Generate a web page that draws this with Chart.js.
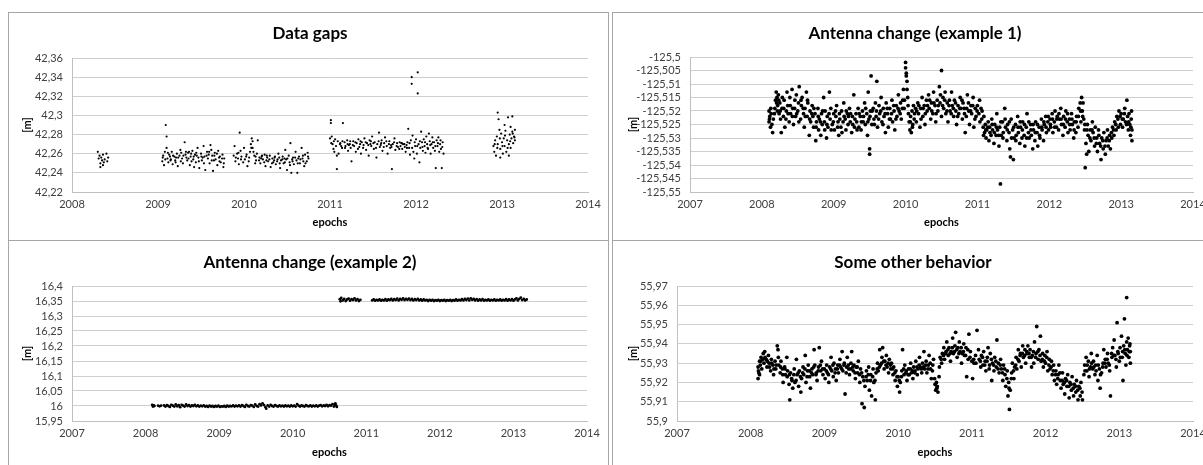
<!DOCTYPE html>
<html>
<head>
<meta charset="utf-8">
<script src="https://cdn.jsdelivr.net/npm/chart.js@4.4.1/dist/chart.umd.min.js"></script>
<style>
  body { margin: 0; width: 1203px; height: 465px; overflow: hidden; background: #fff; font-family: Lato, sans-serif; }
  .panel { position: absolute; border: 1px solid #a6a6a6; box-sizing: border-box; overflow: hidden; }
  .panel canvas { position: absolute; left: 0; top: 0; }
  .titulo { position: absolute; width: 600px; text-align: center; font: bold 17px Lato, sans-serif; line-height: 20px; color: #000; }
</style>
</head>
<body>
<div class="panel" style="left:8px;top:12px;width:601px;height:229px"><canvas id="grafico1" width="598" height="226"></canvas></div>
<div class="panel" style="left:612px;top:12px;width:620px;height:229px"><canvas id="grafico2" width="620" height="226"></canvas></div>
<div class="panel" style="left:8px;top:240px;width:601px;height:240px"><canvas id="grafico3" width="598" height="224"></canvas></div>
<div class="panel" style="left:612px;top:240px;width:620px;height:240px"><canvas id="grafico4" width="620" height="224"></canvas></div>
<div class="titulo" style="left:10px;top:23px">Data gaps</div>
<div class="titulo" style="left:615px;top:23px">Antenna change (example 1)</div>
<div class="titulo" style="left:10px;top:252px">Antenna change (example 2)</div>
<div class="titulo" style="left:613px;top:252px">Some other behavior</div>
<script>
// [ano, valor]
const dataGaps = [
  [2008.30,42.262],[2008.31,42.255],[2008.32,42.258],[2008.33,42.250],[2008.33,42.246],[2008.34,42.256],[2008.35,42.253],[2008.36,42.259],[2008.37,42.251],[2008.38,42.254],[2008.40,42.260],[2008.41,42.252],[2008.42,42.256],[2008.36,42.248],
  [2009.05,42.252],[2009.06,42.258],[2009.07,42.248],[2009.08,42.262],[2009.09,42.290],[2009.10,42.278],[2009.10,42.266],[2009.11,42.255],[2009.12,42.251],[2009.13,42.259],[2009.15,42.254],[2009.16,42.262],[2009.17,42.249],[2009.19,42.257],[2009.20,42.253],[2009.22,42.260],[2009.23,42.247],[2009.25,42.258],[2009.26,42.264],[2009.28,42.255],[2009.29,42.250],[2009.31,42.272],[2009.32,42.259],[2009.34,42.253],[2009.35,42.261],[2009.37,42.248],[2009.38,42.257],[2009.40,42.263],[2009.41,42.254],[2009.43,42.259],[2009.44,42.251],[2009.46,42.266],[2009.47,42.256],[2009.48,42.245],[2009.50,42.260],[2009.51,42.253],[2009.53,42.268],[2009.54,42.257],[2009.55,42.243],[2009.57,42.262],[2009.58,42.255],[2009.60,42.250],[2009.61,42.269],[2009.63,42.258],[2009.64,42.242],[2009.66,42.261],[2009.67,42.254],[2009.69,42.248],[2009.70,42.263],[2009.72,42.257],[2009.73,42.251],[2009.75,42.259],[2009.76,42.246],[2009.77,42.255],
  [2009.14,42.257],[2009.21,42.256],[2009.27,42.261],[2009.33,42.256],[2009.39,42.252],[2009.45,42.258],[2009.52,42.256],[2009.59,42.259],[2009.65,42.253],[2009.71,42.256],[2009.36,42.262],[2009.42,42.246],[2009.62,42.264],
  [2009.88,42.258],[2009.89,42.268],[2009.90,42.252],[2009.92,42.260],[2009.93,42.255],[2009.94,42.249],[2009.95,42.282],[2009.96,42.263],[2009.97,42.257],[2009.99,42.251],[2010.00,42.266],[2010.01,42.254],[2010.03,42.259],[2010.04,42.247],[2010.06,42.256],[2010.07,42.262],[2010.08,42.270],[2010.09,42.276],[2010.10,42.273],[2010.10,42.266],[2010.11,42.262],[2010.12,42.258],[2010.14,42.253],[2010.15,42.260],[2010.16,42.274],[2010.18,42.256],[2010.19,42.250],[2010.21,42.258],[2010.22,42.254],[2010.24,42.259],[2010.25,42.247],[2010.27,42.256],[2010.28,42.252],[2010.30,42.258],[2010.31,42.246],[2010.33,42.255],[2010.34,42.251],[2010.36,42.257],[2010.37,42.249],[2010.39,42.254],[2010.40,42.260],[2010.42,42.245],[2010.43,42.253],[2010.45,42.257],[2010.46,42.250],[2010.48,42.264],[2010.49,42.254],[2010.50,42.243],[2010.52,42.258],[2010.53,42.251],[2010.54,42.271],[2010.55,42.240],[2010.57,42.256],[2010.58,42.249],[2010.60,42.262],[2010.61,42.253],[2010.62,42.240],[2010.64,42.257],[2010.65,42.250],[2010.67,42.266],[2010.68,42.255],[2010.70,42.247],[2010.71,42.259],[2010.73,42.252],[2010.74,42.261],[2010.75,42.255],
  [2010.13,42.250],[2010.20,42.255],[2010.26,42.253],[2010.35,42.253],[2010.41,42.256],[2010.47,42.255],[2010.56,42.254],[2010.63,42.255],[2010.69,42.252],
  [2011.00,42.276],[2011.01,42.295],[2011.01,42.292],[2011.02,42.278],[2011.03,42.270],[2011.04,42.265],[2011.05,42.262],[2011.06,42.275],[2011.07,42.268],[2011.08,42.244],[2011.08,42.258],[2011.09,42.273],[2011.10,42.260],[2011.12,42.271],[2011.14,42.266],[2011.15,42.292],[2011.17,42.272],[2011.18,42.268],[2011.20,42.274],[2011.21,42.263],[2011.23,42.270],[2011.24,42.266],[2011.25,42.252],[2011.27,42.273],[2011.28,42.268],[2011.30,42.262],[2011.31,42.271],[2011.33,42.275],[2011.34,42.267],[2011.36,42.260],[2011.37,42.272],[2011.39,42.269],[2011.40,42.276],[2011.42,42.264],[2011.43,42.271],[2011.45,42.258],[2011.46,42.274],[2011.48,42.268],[2011.49,42.278],[2011.51,42.265],[2011.52,42.272],[2011.54,42.256],[2011.55,42.270],[2011.57,42.282],[2011.58,42.267],[2011.60,42.274],[2011.61,42.263],[2011.63,42.271],[2011.64,42.277],[2011.66,42.268],[2011.67,42.260],[2011.69,42.273],[2011.70,42.266],[2011.72,42.244],[2011.73,42.270],[2011.75,42.276],[2011.76,42.264],[2011.78,42.271],[2011.79,42.267],[2011.81,42.272],[2011.82,42.268],[2011.84,42.265],[2011.85,42.270],[2011.87,42.267],[2011.88,42.262],[2011.90,42.272],[2011.91,42.286],[2011.92,42.266],[2011.93,42.259],[2011.94,42.274],[2011.95,42.340],[2011.95,42.333],[2011.96,42.279],[2011.97,42.262],[2011.98,42.255],[2011.99,42.268],[2012.00,42.275],[2012.01,42.260],[2012.02,42.345],[2012.02,42.323],[2012.03,42.270],[2012.04,42.251],[2012.05,42.266],[2012.06,42.283],[2012.07,42.272],[2012.08,42.263],[2012.09,42.275],[2012.10,42.268],[2012.11,42.261],[2012.12,42.278],[2012.13,42.270],[2012.14,42.265],[2012.15,42.281],[2012.16,42.273],[2012.17,42.260],[2012.18,42.270],[2012.19,42.277],[2012.20,42.266],[2012.21,42.272],[2012.22,42.263],[2012.23,42.245],[2012.24,42.274],[2012.25,42.268],[2012.26,42.277],[2012.27,42.262],[2012.28,42.270],[2012.29,42.265],[2012.30,42.245],[2012.31,42.272],[2012.32,42.260],
  [2011.13,42.268],[2011.22,42.269],[2011.35,42.270],[2011.47,42.270],[2011.59,42.269],[2011.71,42.269],[2011.83,42.271],[2011.89,42.269],
  [2012.90,42.268],[2012.91,42.262],[2012.92,42.274],[2012.93,42.258],[2012.94,42.278],[2012.95,42.270],[2012.95,42.303],[2012.96,42.296],[2012.97,42.285],[2012.98,42.265],[2012.99,42.281],[2013.00,42.272],[2013.01,42.260],[2013.02,42.276],[2013.03,42.268],[2013.04,42.284],[2013.05,42.262],[2013.06,42.274],[2013.07,42.298],[2013.08,42.270],[2013.08,42.258],[2013.09,42.280],[2013.10,42.288],[2013.10,42.266],[2013.11,42.276],[2013.12,42.299],[2013.12,42.283],[2013.13,42.271],[2013.14,42.278],[2013.15,42.285],[2013.15,42.274],[2013.03,42.290],[2012.98,42.256]
];
const dataGapsExtra = [
  [2009.055,42.256],[2009.085,42.254],[2009.115,42.261],[2009.145,42.253],[2009.175,42.258],[2009.205,42.251],[2009.235,42.256],[2009.265,42.252],[2009.295,42.258],[2009.325,42.262],[2009.355,42.255],[2009.385,42.260],[2009.415,42.257],[2009.445,42.261],[2009.475,42.252],[2009.505,42.257],[2009.535,42.250],[2009.565,42.258],[2009.595,42.262],[2009.625,42.253],[2009.655,42.258],[2009.685,42.260],[2009.715,42.252],[2009.745,42.255],[2009.765,42.250],
  [2009.905,42.256],[2009.935,42.261],[2009.965,42.254],[2010.025,42.257],[2010.055,42.252],[2010.085,42.266],[2010.135,42.257],[2010.175,42.253],[2010.205,42.257],[2010.235,42.251],[2010.265,42.258],[2010.295,42.254],[2010.325,42.250],[2010.355,42.256],[2010.385,42.252],[2010.415,42.250],[2010.445,42.254],[2010.475,42.251],[2010.505,42.255],[2010.535,42.248],[2010.565,42.252],[2010.595,42.256],[2010.625,42.250],[2010.655,42.254],[2010.685,42.258],[2010.715,42.250],[2010.745,42.257],
  [2011.015,42.271],[2011.045,42.273],[2011.115,42.270],[2011.145,42.273],[2011.175,42.266],[2011.205,42.270],[2011.235,42.273],[2011.265,42.269],[2011.295,42.272],[2011.325,42.265],[2011.355,42.273],[2011.385,42.266],[2011.415,42.272],[2011.445,42.269],[2011.475,42.273],[2011.505,42.271],[2011.535,42.266],[2011.565,42.273],[2011.595,42.271],[2011.625,42.267],[2011.655,42.273],[2011.685,42.270],[2011.715,42.267],[2011.745,42.272],[2011.775,42.268],[2011.805,42.265],[2011.835,42.271],[2011.865,42.270],[2011.895,42.266],[2011.925,42.271],[2011.955,42.266],[2011.985,42.272],[2012.015,42.268],[2012.045,42.273],[2012.075,42.267],[2012.105,42.272],[2012.135,42.266],[2012.165,42.269],[2012.195,42.272],[2012.225,42.268],[2012.255,42.271],[2012.285,42.274],[2012.305,42.267],
  [2012.915,42.270],[2012.945,42.266],[2012.975,42.276],[2013.005,42.268],[2013.035,42.279],[2013.065,42.266],[2013.095,42.273],[2013.125,42.281],[2013.145,42.277]
];

const antena1 = [
  [2008.10,-125.520],[2008.10,-125.524],[2008.11,-125.522],[2008.12,-125.526],[2008.13,-125.521],[2008.14,-125.525],[2008.15,-125.528],[2008.16,-125.523],[2008.18,-125.519],[2008.19,-125.516],[2008.20,-125.513],[2008.21,-125.515],[2008.22,-125.518],[2008.23,-125.514],[2008.24,-125.521],[2008.25,-125.517],[2008.26,-125.523],[2008.27,-125.528],[2008.28,-125.519],[2008.30,-125.522],[2008.31,-125.516],[2008.32,-125.526],[2008.34,-125.520],[2008.35,-125.513],[2008.36,-125.518],[2008.38,-125.524],[2008.39,-125.515],[2008.40,-125.521],[2008.42,-125.512],[2008.43,-125.519],[2008.44,-125.525],[2008.46,-125.516],[2008.47,-125.522],[2008.48,-125.514],[2008.50,-125.520],[2008.51,-125.517],[2008.52,-125.511],[2008.54,-125.523],[2008.55,-125.518],[2008.56,-125.515],[2008.58,-125.521],[2008.59,-125.526],[2008.60,-125.519],[2008.62,-125.513],[2008.63,-125.522],[2008.64,-125.517],[2008.66,-125.529],[2008.67,-125.520],[2008.68,-125.524],[2008.70,-125.518],[2008.71,-125.522],[2008.72,-125.526],[2008.74,-125.521],[2008.75,-125.531],[2008.76,-125.524],[2008.78,-125.519],[2008.79,-125.527],[2008.80,-125.523],[2008.82,-125.529],[2008.83,-125.521],[2008.84,-125.525],[2008.86,-125.515],[2008.87,-125.524],[2008.88,-125.520],[2008.90,-125.530],[2008.91,-125.522],[2008.92,-125.526],[2008.94,-125.513],[2008.95,-125.523],[2008.96,-125.519],[2008.98,-125.525],
  [2009.00,-125.521],[2009.01,-125.527],[2009.03,-125.522],[2009.04,-125.518],[2009.06,-125.524],[2009.07,-125.529],[2009.08,-125.521],[2009.10,-125.526],[2009.11,-125.520],[2009.13,-125.524],[2009.14,-125.517],[2009.16,-125.523],[2009.17,-125.527],[2009.19,-125.521],[2009.20,-125.525],[2009.22,-125.519],[2009.23,-125.524],[2009.25,-125.528],[2009.26,-125.522],[2009.28,-125.514],[2009.29,-125.526],[2009.31,-125.521],[2009.32,-125.524],[2009.34,-125.519],[2009.35,-125.526],[2009.37,-125.522],[2009.38,-125.527],[2009.40,-125.520],[2009.41,-125.524],[2009.43,-125.517],[2009.44,-125.525],[2009.46,-125.521],[2009.47,-125.529],[2009.48,-125.513],[2009.49,-125.523],[2009.50,-125.534],[2009.50,-125.536],[2009.51,-125.520],[2009.52,-125.507],[2009.53,-125.525],[2009.55,-125.519],[2009.56,-125.523],[2009.58,-125.517],[2009.59,-125.522],[2009.60,-125.509],[2009.61,-125.526],[2009.63,-125.518],[2009.64,-125.521],[2009.66,-125.515],[2009.67,-125.524],[2009.69,-125.519],[2009.70,-125.522],[2009.72,-125.528],[2009.73,-125.517],[2009.75,-125.521],[2009.76,-125.526],[2009.78,-125.519],[2009.79,-125.523],[2009.81,-125.516],[2009.82,-125.524],[2009.84,-125.520],[2009.85,-125.527],[2009.87,-125.518],[2009.88,-125.522],[2009.90,-125.514],[2009.91,-125.520],[2009.93,-125.517],[2009.94,-125.523],[2009.96,-125.516],[2009.97,-125.512],[2009.98,-125.519],
  [2010.00,-125.502],[2010.00,-125.504],[2010.01,-125.506],[2010.01,-125.507],[2010.02,-125.509],[2010.02,-125.512],[2010.03,-125.515],[2010.04,-125.521],[2010.05,-125.524],[2010.06,-125.527],[2010.07,-125.522],[2010.08,-125.528],[2010.09,-125.520],[2010.10,-125.525],[2010.11,-125.518],[2010.12,-125.523],[2010.14,-125.519],[2010.15,-125.524],[2010.17,-125.517],[2010.18,-125.521],[2010.20,-125.526],[2010.21,-125.519],[2010.23,-125.515],[2010.24,-125.522],[2010.26,-125.518],[2010.27,-125.525],[2010.29,-125.516],[2010.30,-125.520],[2010.32,-125.514],[2010.33,-125.519],[2010.35,-125.523],[2010.36,-125.517],[2010.38,-125.521],[2010.39,-125.513],[2010.41,-125.518],[2010.42,-125.524],[2010.44,-125.516],[2010.45,-125.520],[2010.47,-125.511],[2010.48,-125.517],[2010.50,-125.505],[2010.50,-125.522],[2010.52,-125.515],[2010.53,-125.519],[2010.55,-125.513],[2010.56,-125.521],[2010.58,-125.517],[2010.59,-125.524],[2010.61,-125.516],[2010.62,-125.520],[2010.64,-125.513],[2010.65,-125.518],[2010.67,-125.522],[2010.68,-125.516],[2010.70,-125.520],[2010.71,-125.525],[2010.73,-125.518],[2010.74,-125.521],[2010.76,-125.515],[2010.77,-125.519],[2010.79,-125.523],[2010.80,-125.517],[2010.82,-125.521],[2010.83,-125.528],[2010.85,-125.519],[2010.86,-125.514],[2010.88,-125.520],[2010.89,-125.525],[2010.91,-125.518],[2010.92,-125.521],[2010.94,-125.515],[2010.95,-125.526],[2010.97,-125.519],[2010.98,-125.522],
  [2011.00,-125.518],[2011.02,-125.521],[2011.03,-125.516],[2011.05,-125.519],[2011.06,-125.523],[2011.08,-125.526],[2011.09,-125.522],[2011.10,-125.528],[2011.11,-125.525],[2011.12,-125.530],[2011.13,-125.527],[2011.15,-125.524],[2011.16,-125.531],[2011.17,-125.526],[2011.19,-125.529],[2011.20,-125.523],[2011.21,-125.527],[2011.23,-125.532],[2011.24,-125.525],[2011.26,-125.529],[2011.27,-125.521],[2011.28,-125.527],[2011.30,-125.533],[2011.31,-125.526],[2011.32,-125.547],[2011.33,-125.529],[2011.35,-125.524],[2011.36,-125.528],[2011.38,-125.519],[2011.39,-125.526],[2011.41,-125.531],[2011.42,-125.525],[2011.44,-125.528],[2011.45,-125.534],[2011.46,-125.537],[2011.47,-125.523],[2011.49,-125.527],[2011.50,-125.538],[2011.51,-125.530],[2011.53,-125.525],[2011.54,-125.529],[2011.56,-125.522],[2011.57,-125.528],[2011.59,-125.532],[2011.60,-125.526],[2011.62,-125.530],[2011.63,-125.524],[2011.65,-125.529],[2011.66,-125.533],[2011.68,-125.526],[2011.69,-125.521],[2011.71,-125.528],[2011.72,-125.530],[2011.74,-125.525],[2011.75,-125.529],[2011.77,-125.534],[2011.78,-125.527],[2011.80,-125.531],[2011.81,-125.524],[2011.83,-125.528],[2011.84,-125.533],[2011.86,-125.526],[2011.87,-125.530],[2011.89,-125.523],[2011.90,-125.527],[2011.92,-125.531],[2011.93,-125.525],[2011.95,-125.522],[2011.96,-125.528],[2011.98,-125.524],[2011.99,-125.527],
  [2012.01,-125.523],[2012.02,-125.526],[2012.04,-125.521],[2012.05,-125.528],[2012.07,-125.524],[2012.08,-125.520],[2012.10,-125.526],[2012.11,-125.522],[2012.13,-125.527],[2012.14,-125.523],[2012.16,-125.519],[2012.17,-125.525],[2012.19,-125.529],[2012.20,-125.522],[2012.22,-125.526],[2012.23,-125.520],[2012.25,-125.524],[2012.26,-125.528],[2012.28,-125.523],[2012.29,-125.527],[2012.31,-125.521],[2012.32,-125.525],[2012.34,-125.530],[2012.35,-125.524],[2012.37,-125.528],[2012.38,-125.522],[2012.40,-125.526],[2012.41,-125.519],[2012.43,-125.517],[2012.44,-125.524],[2012.45,-125.515],[2012.46,-125.520],[2012.47,-125.517],[2012.48,-125.523],[2012.49,-125.527],[2012.50,-125.541],[2012.51,-125.532],[2012.52,-125.536],[2012.53,-125.525],[2012.54,-125.529],[2012.55,-125.535],[2012.57,-125.527],[2012.58,-125.531],[2012.60,-125.524],[2012.61,-125.528],[2012.63,-125.533],[2012.64,-125.526],[2012.66,-125.530],[2012.67,-125.535],[2012.69,-125.529],[2012.70,-125.532],[2012.72,-125.538],[2012.73,-125.530],[2012.75,-125.534],[2012.76,-125.528],[2012.78,-125.536],[2012.79,-125.531],[2012.81,-125.527],[2012.82,-125.533],[2012.84,-125.529],[2012.85,-125.534],[2012.87,-125.530],[2012.88,-125.526],[2012.90,-125.529],[2012.91,-125.524],[2012.93,-125.527],[2012.94,-125.522],[2012.96,-125.526],[2012.97,-125.520],[2012.99,-125.525],
  [2013.00,-125.521],[2013.02,-125.526],[2013.03,-125.523],[2013.05,-125.519],[2013.06,-125.524],[2013.08,-125.516],[2013.09,-125.522],[2013.10,-125.527],[2013.11,-125.521],[2013.12,-125.525],[2013.13,-125.529],[2013.14,-125.523],[2013.15,-125.527],[2013.15,-125.531]
];
const antena1Extra = [
  [2008.105,-125.523],[2008.125,-125.519],[2008.175,-125.521],[2008.205,-125.517],[2008.215,-125.520],[2008.235,-125.516],[2008.255,-125.520],[2008.285,-125.515],[2008.305,-125.519],[2008.335,-125.523],[2008.365,-125.521],[2008.395,-125.518],[2008.425,-125.522],[2008.455,-125.519],[2008.485,-125.521],[2008.515,-125.524],[2008.545,-125.516],[2008.575,-125.519],[2008.605,-125.522],[2008.635,-125.516],[2008.665,-125.523],[2008.695,-125.521],[2008.725,-125.519],[2008.755,-125.526],[2008.785,-125.522],[2008.815,-125.524],[2008.845,-125.520],[2008.875,-125.527],[2008.905,-125.525],[2008.935,-125.521],[2008.965,-125.527],[2008.995,-125.524],
  [2009.025,-125.520],[2009.055,-125.526],[2009.085,-125.523],[2009.115,-125.528],[2009.145,-125.522],[2009.175,-125.520],[2009.205,-125.522],[2009.235,-125.521],[2009.265,-125.525],[2009.295,-125.523],[2009.325,-125.527],[2009.355,-125.521],[2009.385,-125.524],[2009.415,-125.522],[2009.445,-125.519],[2009.475,-125.524],[2009.505,-125.522],[2009.535,-125.520],[2009.565,-125.525],[2009.595,-125.520],[2009.625,-125.523],[2009.655,-125.520],[2009.685,-125.525],[2009.715,-125.521],[2009.745,-125.519],[2009.775,-125.523],[2009.805,-125.521],[2009.835,-125.518],[2009.865,-125.523],[2009.895,-125.519],[2009.925,-125.521],[2009.955,-125.519],[2009.985,-125.516],
  [2010.035,-125.518],[2010.065,-125.524],[2010.095,-125.526],[2010.125,-125.521],[2010.155,-125.520],[2010.185,-125.518],[2010.215,-125.523],[2010.245,-125.519],[2010.275,-125.521],[2010.305,-125.518],[2010.335,-125.516],[2010.365,-125.520],[2010.395,-125.517],[2010.425,-125.521],[2010.455,-125.518],[2010.485,-125.514],[2010.515,-125.518],[2010.545,-125.516],[2010.575,-125.520],[2010.605,-125.518],[2010.635,-125.521],[2010.665,-125.519],[2010.695,-125.517],[2010.725,-125.522],[2010.755,-125.519],[2010.785,-125.516],[2010.815,-125.519],[2010.845,-125.522],[2010.875,-125.517],[2010.905,-125.520],[2010.935,-125.518],[2010.965,-125.523],[2010.995,-125.520],
  [2011.035,-125.524],[2011.065,-125.520],[2011.085,-125.529],[2011.115,-125.527],[2011.145,-125.526],[2011.175,-125.528],[2011.205,-125.525],[2011.235,-125.528],[2011.265,-125.526],[2011.295,-125.529],[2011.325,-125.524],[2011.355,-125.530],[2011.385,-125.523],[2011.415,-125.527],[2011.445,-125.524],[2011.475,-125.530],[2011.505,-125.526],[2011.535,-125.531],[2011.565,-125.526],[2011.595,-125.524],[2011.625,-125.527],[2011.655,-125.525],[2011.685,-125.530],[2011.715,-125.524],[2011.745,-125.527],[2011.775,-125.525],[2011.805,-125.528],[2011.835,-125.525],[2011.865,-125.529],[2011.895,-125.526],[2011.925,-125.524],[2011.955,-125.526],[2011.985,-125.522],
  [2012.015,-125.525],[2012.045,-125.523],[2012.075,-125.526],[2012.105,-125.523],[2012.135,-125.521],[2012.165,-125.523],[2012.195,-125.525],[2012.225,-125.523],[2012.255,-125.521],[2012.285,-125.525],[2012.315,-125.523],[2012.345,-125.527],[2012.375,-125.524],[2012.405,-125.522],[2012.435,-125.520],[2012.465,-125.522],[2012.495,-125.525],[2012.525,-125.527],[2012.565,-125.530],[2012.595,-125.527],[2012.625,-125.530],[2012.655,-125.532],[2012.685,-125.527],[2012.715,-125.533],[2012.745,-125.531],[2012.775,-125.533],[2012.805,-125.530],[2012.835,-125.531],[2012.865,-125.528],[2012.895,-125.527],[2012.925,-125.525],[2012.955,-125.523],[2012.985,-125.522],
  [2013.015,-125.523],[2013.045,-125.521],[2013.075,-125.525],[2013.105,-125.524],[2013.135,-125.526],[2013.145,-125.520]
];

const antena2Antes = [
  [2008.09,16.004],[2008.10,15.998],[2008.11,16.002],[2008.12,16.000],[2008.17,16.001],[2008.19,15.999],[2008.21,16.001],[2008.25,16.002],[2008.27,15.998],[2008.29,16.003],[2008.31,16.000],[2008.33,15.997],[2008.35,16.004],[2008.37,16.001],[2008.39,15.998],[2008.41,16.005],[2008.43,15.999],[2008.45,16.003],[2008.47,15.996],[2008.49,16.004],[2008.51,16.001],[2008.53,15.998],[2008.55,16.005],[2008.57,16.000],[2008.59,16.003],[2008.61,15.998],[2008.63,16.002],[2008.65,16.000],[2008.67,16.004],[2008.69,15.999],[2008.71,16.002],[2008.73,15.998],[2008.75,16.001],[2008.77,15.999],[2008.79,16.002],[2008.81,15.998],[2008.83,16.000],[2008.85,15.997],[2008.87,16.001],[2008.89,15.998],[2008.91,16.000],[2008.93,15.997],[2008.95,16.000],[2008.97,15.998],[2008.99,16.001],
  [2009.01,15.997],[2009.03,15.999],[2009.05,15.998],[2009.07,16.000],[2009.09,15.997],[2009.11,16.001],[2009.13,15.998],[2009.15,16.000],[2009.17,15.999],[2009.19,16.002],[2009.21,15.998],[2009.23,16.001],[2009.25,15.999],[2009.27,16.002],[2009.29,15.998],[2009.31,16.003],[2009.33,16.000],[2009.35,15.997],[2009.37,16.004],[2009.39,16.000],[2009.41,15.998],[2009.43,16.003],[2009.45,16.001],[2009.47,15.997],[2009.49,16.005],[2009.51,16.000],[2009.53,15.998],[2009.55,16.006],[2009.57,16.002],[2009.59,16.009],[2009.61,16.003],[2009.63,15.996],[2009.64,15.991],[2009.66,16.002],[2009.68,15.998],[2009.70,16.004],[2009.72,16.000],[2009.74,15.998],[2009.76,16.003],[2009.78,16.000],[2009.80,15.998],[2009.82,16.002],[2009.84,15.999],[2009.86,16.001],[2009.88,15.998],[2009.90,16.002],[2009.92,15.999],[2009.94,16.001],[2009.96,15.998],[2009.98,16.002],
  [2010.00,15.999],[2010.02,16.001],[2010.04,15.998],[2010.06,16.006],[2010.08,16.001],[2010.10,15.998],[2010.12,16.002],[2010.14,16.000],[2010.16,15.998],[2010.18,16.003],[2010.20,16.000],[2010.22,15.999],[2010.24,16.002],[2010.26,15.998],[2010.28,16.001],[2010.30,15.999],[2010.32,16.002],[2010.34,15.998],[2010.36,16.001],[2010.38,16.003],[2010.40,15.999],[2010.42,16.002],[2010.44,16.000],[2010.46,16.004],[2010.48,15.999],[2010.50,16.003],[2010.52,16.001],[2010.54,16.006],[2010.56,15.998],[2010.57,16.005],[2010.58,16.009],[2010.59,16.002],[2010.60,15.997]
];

const antena2Depois = [
  [2010.64,16.356],[2010.65,16.349],[2010.66,16.360],[2010.68,16.352],[2010.70,16.357],[2010.72,16.350],[2010.74,16.355],[2010.76,16.358],[2010.78,16.351],[2010.80,16.356],[2010.82,16.353],[2010.84,16.359],[2010.86,16.352],[2010.88,16.356],[2010.90,16.350],[2010.92,16.354],
  [2011.08,16.352],[2011.10,16.355],[2011.12,16.351],[2011.14,16.354],[2011.16,16.352],[2011.18,16.355],[2011.20,16.351],[2011.22,16.354],[2011.24,16.352],[2011.26,16.356],[2011.28,16.351],[2011.30,16.355],[2011.32,16.353],[2011.34,16.357],[2011.36,16.352],[2011.38,16.356],[2011.40,16.353],[2011.42,16.358],[2011.44,16.352],[2011.46,16.357],[2011.48,16.354],[2011.50,16.359],[2011.52,16.353],[2011.54,16.357],[2011.56,16.354],[2011.58,16.358],[2011.60,16.353],[2011.62,16.357],[2011.64,16.352],[2011.66,16.356],[2011.68,16.353],[2011.70,16.357],[2011.72,16.352],[2011.74,16.355],[2011.76,16.351],[2011.78,16.355],[2011.80,16.352],[2011.82,16.354],[2011.84,16.350],[2011.86,16.354],[2011.88,16.351],[2011.90,16.354],[2011.92,16.350],[2011.94,16.353],[2011.96,16.351],[2011.98,16.354],
  [2012.00,16.350],[2012.02,16.353],[2012.04,16.351],[2012.06,16.354],[2012.08,16.350],[2012.10,16.353],[2012.12,16.351],[2012.14,16.354],[2012.16,16.350],[2012.18,16.353],[2012.20,16.351],[2012.22,16.355],[2012.24,16.351],[2012.26,16.354],[2012.28,16.352],[2012.30,16.356],[2012.32,16.352],[2012.34,16.357],[2012.36,16.353],[2012.38,16.358],[2012.40,16.352],[2012.42,16.359],[2012.44,16.354],[2012.46,16.357],[2012.48,16.352],[2012.50,16.356],[2012.52,16.351],[2012.54,16.355],[2012.56,16.352],[2012.58,16.356],[2012.60,16.351],[2012.62,16.354],[2012.64,16.352],[2012.66,16.355],[2012.68,16.351],[2012.70,16.354],[2012.72,16.352],[2012.74,16.355],[2012.76,16.351],[2012.78,16.354],[2012.80,16.352],[2012.82,16.355],[2012.84,16.351],[2012.86,16.354],[2012.88,16.352],[2012.90,16.356],[2012.92,16.351],[2012.94,16.355],[2012.96,16.352],[2012.98,16.356],
  [2013.00,16.351],[2013.02,16.355],[2013.04,16.359],[2013.06,16.352],[2013.08,16.357],[2013.10,16.361],[2013.12,16.353],[2013.14,16.357],[2013.16,16.352],[2013.18,16.355]
];

const outroComportamento = [
  [2008.10,55.922],[2008.10,55.928],[2008.11,55.925],[2008.12,55.931],[2008.12,55.924],[2008.13,55.929],[2008.14,55.933],[2008.15,55.927],[2008.17,55.935],[2008.18,55.930],[2008.19,55.936],[2008.21,55.932],[2008.22,55.928],[2008.24,55.934],[2008.25,55.930],[2008.27,55.926],[2008.28,55.932],[2008.30,55.929],[2008.31,55.924],[2008.33,55.931],[2008.34,55.927],[2008.36,55.939],[2008.37,55.937],[2008.38,55.929],[2008.40,55.925],[2008.41,55.931],[2008.43,55.927],[2008.44,55.920],[2008.46,55.928],[2008.47,55.924],[2008.49,55.933],[2008.50,55.926],[2008.52,55.919],[2008.53,55.911],[2008.54,55.925],[2008.56,55.921],[2008.57,55.917],[2008.59,55.927],[2008.60,55.920],[2008.62,55.932],[2008.63,55.924],[2008.65,55.918],[2008.66,55.926],[2008.68,55.915],[2008.69,55.922],[2008.71,55.928],[2008.72,55.924],[2008.74,55.934],[2008.75,55.920],[2008.77,55.926],[2008.78,55.929],[2008.80,55.923],[2008.81,55.917],[2008.83,55.927],[2008.84,55.924],[2008.86,55.937],[2008.87,55.929],[2008.89,55.925],[2008.90,55.921],[2008.92,55.928],[2008.93,55.938],[2008.95,55.926],[2008.96,55.931],[2008.98,55.924],
  [2009.00,55.927],[2009.01,55.922],[2009.03,55.929],[2009.04,55.925],[2009.06,55.920],[2009.07,55.928],[2009.09,55.933],[2009.10,55.926],[2009.12,55.923],[2009.13,55.930],[2009.15,55.927],[2009.16,55.921],[2009.18,55.929],[2009.19,55.925],[2009.21,55.932],[2009.22,55.928],[2009.24,55.936],[2009.25,55.926],[2009.27,55.930],[2009.28,55.914],[2009.30,55.928],[2009.31,55.933],[2009.33,55.927],[2009.34,55.924],[2009.36,55.930],[2009.37,55.936],[2009.39,55.926],[2009.40,55.929],[2009.42,55.922],[2009.43,55.928],[2009.45,55.925],[2009.46,55.931],[2009.48,55.920],[2009.49,55.927],[2009.51,55.909],[2009.52,55.923],[2009.54,55.907],[2009.55,55.918],[2009.57,55.926],[2009.58,55.921],[2009.60,55.928],[2009.61,55.916],[2009.63,55.924],[2009.64,55.913],[2009.66,55.927],[2009.67,55.920],[2009.69,55.911],[2009.70,55.925],[2009.72,55.930],[2009.73,55.926],[2009.75,55.937],[2009.76,55.929],[2009.78,55.933],[2009.79,55.938],[2009.81,55.927],[2009.82,55.931],[2009.84,55.934],[2009.85,55.928],[2009.87,55.925],[2009.88,55.932],[2009.90,55.927],[2009.91,55.930],[2009.93,55.924],[2009.94,55.928],[2009.96,55.921],[2009.97,55.926],[2009.99,55.918],
  [2010.00,55.923],[2010.02,55.915],[2010.03,55.920],[2010.05,55.926],[2010.06,55.937],[2010.08,55.924],[2010.09,55.929],[2010.11,55.926],[2010.12,55.921],[2010.14,55.927],[2010.15,55.924],[2010.17,55.930],[2010.18,55.925],[2010.20,55.922],[2010.21,55.928],[2010.23,55.926],[2010.24,55.931],[2010.26,55.924],[2010.27,55.927],[2010.29,55.933],[2010.30,55.928],[2010.32,55.925],[2010.33,55.930],[2010.35,55.936],[2010.36,55.927],[2010.38,55.931],[2010.39,55.925],[2010.41,55.929],[2010.42,55.934],[2010.44,55.927],[2010.45,55.922],[2010.47,55.929],[2010.48,55.932],[2010.50,55.919],[2010.51,55.916],[2010.52,55.920],[2010.53,55.918],[2010.54,55.915],[2010.56,55.928],[2010.57,55.933],[2010.59,55.930],[2010.60,55.935],[2010.62,55.938],[2010.63,55.932],[2010.65,55.936],[2010.66,55.941],[2010.68,55.934],[2010.69,55.938],[2010.71,55.931],[2010.72,55.936],[2010.74,55.943],[2010.75,55.935],[2010.77,55.939],[2010.78,55.946],[2010.80,55.933],[2010.81,55.938],[2010.83,55.941],[2010.84,55.936],[2010.86,55.930],[2010.87,55.935],[2010.89,55.940],[2010.90,55.934],[2010.92,55.938],[2010.93,55.923],[2010.95,55.932],[2010.96,55.945],[2010.98,55.936],
  [2011.00,55.931],[2011.01,55.922],[2011.03,55.930],[2011.05,55.934],[2011.07,55.947],[2011.09,55.937],[2011.10,55.932],[2011.12,55.928],[2011.13,55.934],[2011.15,55.929],[2011.16,55.936],[2011.18,55.931],[2011.19,55.926],[2011.21,55.933],[2011.22,55.938],[2011.24,55.929],[2011.25,55.935],[2011.27,55.921],[2011.28,55.930],[2011.30,55.926],[2011.31,55.933],[2011.33,55.928],[2011.34,55.942],[2011.36,55.930],[2011.37,55.925],[2011.39,55.932],[2011.40,55.927],[2011.42,55.921],[2011.43,55.929],[2011.45,55.924],[2011.46,55.918],[2011.48,55.926],[2011.49,55.913],[2011.50,55.920],[2011.51,55.906],[2011.52,55.916],[2011.54,55.925],[2011.55,55.930],[2011.57,55.922],[2011.58,55.928],[2011.60,55.933],[2011.61,55.927],[2011.63,55.937],[2011.64,55.931],[2011.66,55.935],[2011.67,55.928],[2011.69,55.939],[2011.70,55.933],[2011.72,55.937],[2011.73,55.930],[2011.75,55.935],[2011.76,55.939],[2011.78,55.933],[2011.79,55.937],[2011.81,55.928],[2011.82,55.934],[2011.84,55.930],[2011.85,55.941],[2011.87,55.935],[2011.88,55.949],[2011.90,55.932],[2011.91,55.937],[2011.93,55.944],[2011.94,55.931],[2011.96,55.935],[2011.97,55.928],[2011.99,55.934],
  [2012.00,55.930],[2012.02,55.936],[2012.03,55.926],[2012.05,55.932],[2012.06,55.927],[2012.08,55.931],[2012.09,55.924],[2012.11,55.929],[2012.12,55.921],[2012.14,55.926],[2012.15,55.919],[2012.17,55.924],[2012.18,55.929],[2012.20,55.921],[2012.21,55.917],[2012.23,55.925],[2012.24,55.919],[2012.26,55.914],[2012.27,55.922],[2012.29,55.918],[2012.30,55.924],[2012.32,55.912],[2012.33,55.920],[2012.35,55.916],[2012.36,55.923],[2012.38,55.913],[2012.39,55.919],[2012.41,55.915],[2012.42,55.921],[2012.44,55.911],[2012.45,55.918],[2012.47,55.913],[2012.48,55.920],[2012.50,55.911],[2012.52,55.924],[2012.53,55.929],[2012.55,55.933],[2012.56,55.926],[2012.58,55.931],[2012.59,55.923],[2012.61,55.928],[2012.62,55.935],[2012.64,55.927],[2012.65,55.931],[2012.67,55.924],[2012.68,55.929],[2012.70,55.934],[2012.71,55.921],[2012.73,55.927],[2012.74,55.917],[2012.76,55.925],[2012.78,55.930],[2012.79,55.937],[2012.81,55.932],[2012.82,55.928],[2012.84,55.935],[2012.85,55.930],[2012.87,55.926],[2012.88,55.913],[2012.90,55.933],[2012.91,55.938],[2012.93,55.942],[2012.94,55.934],[2012.96,55.928],[2012.97,55.951],[2012.98,55.936],
  [2013.00,55.931],[2013.01,55.938],[2013.03,55.944],[2013.04,55.933],[2013.05,55.921],[2013.06,55.939],[2013.07,55.953],[2013.08,55.935],[2013.09,55.929],[2013.10,55.941],[2013.10,55.964],[2013.11,55.937],[2013.12,55.943],[2013.13,55.933],[2013.14,55.939],[2013.15,55.936],[2013.15,55.930]
];
const outroExtra = [
  [2008.105,55.926],[2008.135,55.931],[2008.165,55.932],[2008.195,55.933],[2008.225,55.931],[2008.255,55.928],[2008.285,55.930],[2008.315,55.927],[2008.345,55.929],[2008.375,55.933],[2008.405,55.928],[2008.435,55.924],[2008.465,55.927],[2008.495,55.923],[2008.525,55.924],[2008.555,55.922],[2008.585,55.924],[2008.615,55.921],[2008.645,55.925],[2008.675,55.923],[2008.705,55.925],[2008.735,55.927],[2008.765,55.923],[2008.795,55.926],[2008.825,55.925],[2008.855,55.928],[2008.885,55.924],[2008.915,55.926],[2008.945,55.929],[2008.975,55.927],
  [2009.025,55.926],[2009.055,55.924],[2009.085,55.927],[2009.115,55.929],[2009.145,55.925],[2009.175,55.927],[2009.205,55.929],[2009.235,55.927],[2009.265,55.929],[2009.295,55.925],[2009.325,55.929],[2009.355,55.927],[2009.385,55.928],[2009.415,55.925],[2009.445,55.928],[2009.475,55.924],[2009.505,55.925],[2009.535,55.921],[2009.565,55.923],[2009.595,55.924],[2009.625,55.921],[2009.655,55.923],[2009.685,55.921],[2009.715,55.927],[2009.745,55.928],[2009.775,55.930],[2009.805,55.931],[2009.835,55.929],[2009.865,55.930],[2009.895,55.929],[2009.925,55.927],[2009.955,55.925],[2009.985,55.923],
  [2010.015,55.921],[2010.045,55.923],[2010.075,55.927],[2010.105,55.925],[2010.135,55.924],[2010.165,55.927],[2010.195,55.926],[2010.225,55.925],[2010.255,55.928],[2010.285,55.929],[2010.315,55.927],[2010.345,55.928],[2010.375,55.929],[2010.405,55.927],[2010.435,55.930],[2010.465,55.926],[2010.495,55.922],[2010.525,55.917],[2010.555,55.923],[2010.585,55.932],[2010.615,55.934],[2010.645,55.935],[2010.675,55.937],[2010.705,55.935],[2010.735,55.938],[2010.765,55.936],[2010.795,55.937],[2010.825,55.935],[2010.855,55.938],[2010.885,55.936],[2010.915,55.934],[2010.945,55.937],[2010.975,55.933],
  [2011.025,55.932],[2011.055,55.930],[2011.115,55.931],[2011.145,55.933],[2011.175,55.929],[2011.205,55.931],[2011.235,55.927],[2011.265,55.932],[2011.295,55.929],[2011.325,55.931],[2011.355,55.927],[2011.385,55.929],[2011.415,55.925],[2011.445,55.927],[2011.475,55.922],[2011.505,55.917],[2011.535,55.922],[2011.565,55.926],[2011.595,55.929],[2011.625,55.932],[2011.655,55.934],[2011.685,55.935],[2011.715,55.934],[2011.745,55.936],[2011.775,55.935],[2011.805,55.933],[2011.835,55.936],[2011.865,55.933],[2011.895,55.936],[2011.925,55.934],[2011.955,55.932],[2011.985,55.931],
  [2012.015,55.933],[2012.045,55.929],[2012.075,55.928],[2012.105,55.926],[2012.135,55.924],[2012.165,55.922],[2012.195,55.925],[2012.225,55.921],[2012.255,55.920],[2012.285,55.921],[2012.315,55.918],[2012.345,55.919],[2012.375,55.917],[2012.405,55.918],[2012.435,55.916],[2012.465,55.917],[2012.495,55.915],[2012.535,55.926],[2012.565,55.929],[2012.595,55.927],[2012.625,55.930],[2012.655,55.928],[2012.685,55.926],[2012.715,55.929],[2012.745,55.924],[2012.775,55.928],[2012.805,55.930],[2012.835,55.932],[2012.865,55.929],[2012.895,55.935],[2012.925,55.934],[2012.955,55.932],[2012.985,55.935],
  [2013.015,55.933],[2013.045,55.936],[2013.075,55.937],[2013.105,55.934],[2013.135,55.936],[2013.145,55.940]
];

Chart.defaults.font.family = "Lato, sans-serif";
Chart.defaults.color = "#404040";

function virgula(v) {
  return String(Math.round(v * 1000) / 1000).replace(".", ",");
}

function plotarPainel(idGrafico, series, raio, eixoX, eixoY, caixa) {
  const ctx = document.getElementById(idGrafico).getContext("2d");
  return new Chart(ctx, {
    type: "scatter",
    data: {
      datasets: series.map((pontos) => ({
        data: pontos.map((p) => ({ x: p[0], y: p[1] })),
        backgroundColor: "#000",
        borderWidth: 0,
        pointRadius: raio,
      })),
    },
    options: {
      responsive: false,
      animation: false,
      layout: { padding: caixa.padding },
      plugins: { legend: { display: false }, tooltip: { enabled: false } },
      scales: {
        x: {
          type: "linear",
          min: eixoX[0],
          max: eixoX[1],
          grid: { display: false, drawTicks: false },
          border: { display: true, color: "#bfbfbf" },
          ticks: { stepSize: 1, padding: 6, maxRotation: 0, font: { size: 11 }, callback: (v) => String(v) },
          title: { display: true, text: "epochs", color: "#000", font: { size: 11, weight: "bold" } },
          afterFit: (s) => { s.height = caixa.alturaX; },
        },
        y: {
          min: eixoY[0],
          max: eixoY[1],
          grid: { color: "#cfcfcf", drawTicks: false },
          border: { display: true, color: "#bfbfbf" },
          ticks: { stepSize: eixoY[2], autoSkip: false, padding: 9, font: { size: 11 }, callback: virgula },
          title: { display: true, text: "[m]", color: "#000", font: { size: 11, weight: "bold" } },
          afterFit: (s) => { s.width = caixa.larguraY; },
        },
      },
    },
  });
}

plotarPainel("grafico1", [dataGaps, dataGapsExtra], 1.1, [2008, 2014], [42.22, 42.36, 0.02],
  { padding: { left: 8, right: 19, top: 45, bottom: 6 }, larguraY: 55, alturaX: 41 });
plotarPainel("grafico2", [antena1, antena1Extra], 1.9, [2007, 2014], [-125.55, -125.5, 0.005],
  { padding: { left: 10, right: 40, top: 44, bottom: 6 }, larguraY: 67, alturaX: 41 });
plotarPainel("grafico3", [antena2Antes, antena2Depois], 1.4, [2007, 2014], [15.95, 16.4, 0.05],
  { padding: { left: 8, right: 20, top: 45, bottom: 2 }, larguraY: 55, alturaX: 42 });
plotarPainel("grafico4", [outroComportamento, outroExtra], 1.9, [2007, 2014], [55.9, 55.97, 0.01],
  { padding: { left: 10, right: 40, top: 45, bottom: 2 }, larguraY: 54, alturaX: 42 });
</script>
</body>
</html>
